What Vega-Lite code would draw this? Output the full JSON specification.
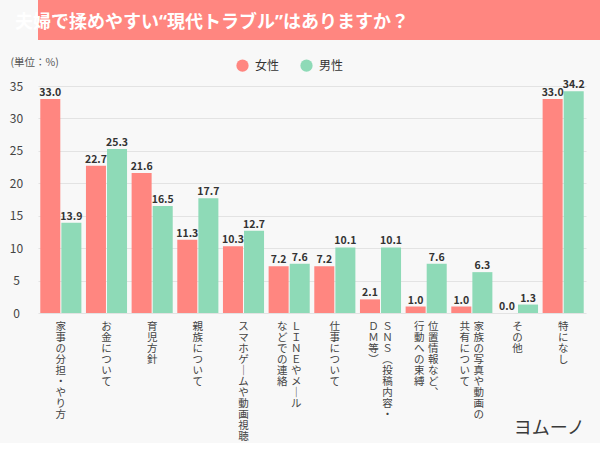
{
  "$schema": "https://vega.github.io/schema/vega-lite/v6.json",
  "background": "#F8F8F8",
  "padding": 0,
  "spacing": 17,
  "config": {"font": "Noto Sans CJK JP", "view": {"stroke": null}},
  "datasets": {
    "bars": [
      {"cat": "家事の分担・やり方", "gender": "女性", "value": 33.0},
      {"cat": "家事の分担・やり方", "gender": "男性", "value": 13.9},
      {"cat": "お金について", "gender": "女性", "value": 22.7},
      {"cat": "お金について", "gender": "男性", "value": 25.3},
      {"cat": "育児方針", "gender": "女性", "value": 21.6},
      {"cat": "育児方針", "gender": "男性", "value": 16.5},
      {"cat": "親族について", "gender": "女性", "value": 11.3},
      {"cat": "親族について", "gender": "男性", "value": 17.7},
      {"cat": "スマホゲームや動画視聴", "gender": "女性", "value": 10.3},
      {"cat": "スマホゲームや動画視聴", "gender": "男性", "value": 12.7},
      {"cat": "LINEやメールなどでの連絡", "gender": "女性", "value": 7.2},
      {"cat": "LINEやメールなどでの連絡", "gender": "男性", "value": 7.6},
      {"cat": "仕事について", "gender": "女性", "value": 7.2},
      {"cat": "仕事について", "gender": "男性", "value": 10.1},
      {"cat": "SNS（投稿内容・DM等）", "gender": "女性", "value": 2.1},
      {"cat": "SNS（投稿内容・DM等）", "gender": "男性", "value": 10.1},
      {"cat": "位置情報など、行動への束縛", "gender": "女性", "value": 1.0},
      {"cat": "位置情報など、行動への束縛", "gender": "男性", "value": 7.6},
      {"cat": "家族の写真や動画の共有について", "gender": "女性", "value": 1.0},
      {"cat": "家族の写真や動画の共有について", "gender": "男性", "value": 6.3},
      {"cat": "その他", "gender": "女性", "value": 0.0},
      {"cat": "その他", "gender": "男性", "value": 1.3},
      {"cat": "特になし", "gender": "女性", "value": 33.0},
      {"cat": "特になし", "gender": "男性", "value": 34.2}
    ],
    "labC": [
      {"cat": "家事の分担・やり方", "t": "家事の分担・やり方"},
      {"cat": "お金について", "t": "お金について"},
      {"cat": "育児方針", "t": "育児方針"},
      {"cat": "親族について", "t": "親族について"},
      {"cat": "スマホゲームや動画視聴", "t": "スマホゲ｜ムや動画視聴"},
      {"cat": "仕事について", "t": "仕事について"},
      {"cat": "その他", "t": "その他"},
      {"cat": "特になし", "t": "特になし"}
    ],
    "labR": [
      {"cat": "LINEやメールなどでの連絡", "t": "ＬＩＮＥやメ｜ル"},
      {"cat": "SNS（投稿内容・DM等）", "t": "ＳＮＳ︵投稿内容・"},
      {"cat": "位置情報など、行動への束縛", "t": "位置情報など︑"},
      {"cat": "家族の写真や動画の共有について", "t": "家族の写真や動画の"}
    ],
    "labL": [
      {"cat": "LINEやメールなどでの連絡", "t": "などでの連絡"},
      {"cat": "SNS（投稿内容・DM等）", "t": "ＤＭ等︶"},
      {"cat": "位置情報など、行動への束縛", "t": "行動への束縛"},
      {"cat": "家族の写真や動画の共有について", "t": "共有について"}
    ],
    "logo": [{"cat": "特になし", "t": "ヨムーノ"}]
  },
  "vconcat": [
    {
      "width": 600,
      "height": 40,
      "view": {"fill": "#FF8680", "stroke": null},
      "title": {
        "text": "夫婦で揉めやすい“現代トラブル”はありますか？",
        "anchor": "start",
        "frame": "group",
        "offset": -32,
        "dx": -23,
        "color": "#FFFFFF",
        "fontSize": 18,
        "fontWeight": "bold",
        "font": "Noto Sans, Noto Sans CJK JP"
      },
      "data": {"values": [{"t": ""}]},
      "mark": {"type": "text"},
      "encoding": {"text": {"field": "t"}}
    },
    {
      "width": 548,
      "height": 227,
      "layer": [
        {
          "data": {"name": "bars"},
          "mark": {"type": "bar"},
          "encoding": {
            "x": {
              "field": "cat", "type": "nominal", "sort": null,
              "scale": {
                "domain": ["家事の分担・やり方", "お金について", "育児方針", "親族について", "スマホゲームや動画視聴", "LINEやメールなどでの連絡", "仕事について", "SNS（投稿内容・DM等）", "位置情報など、行動への束縛", "家族の写真や動画の共有について", "その他", "特になし"],
                "paddingInner": 0.1, "paddingOuter": 0.05
              },
              "axis": null
            },
            "xOffset": {"field": "gender", "type": "nominal", "scale": {"domain": ["女性", "男性"], "paddingInner": 0.05}},
            "y": {
              "field": "value", "type": "quantitative",
              "scale": {"domain": [0, 35], "nice": false},
              "axis": {
                "title": "(単位：%)", "titleAngle": 0, "titleAlign": "left", "titleBaseline": "middle",
                "titleX": -28, "titleY": -24, "titleFontSize": 10.5, "titleFontWeight": "normal", "titleColor": "#555555",
                "domain": false, "ticks": false, "tickSize": 0, "labelPadding": 22, "labelAlign": "center",
                "labelFontSize": 12, "labelColor": "#444444", "gridColor": "#E3E3E3",
                "values": [0, 5, 10, 15, 20, 25, 30, 35], "tickCount": 12, "labelOverlap": false,
                "minExtent": 38, "maxExtent": 38
              }
            },
            "color": {
              "field": "gender", "type": "nominal",
              "scale": {"domain": ["女性", "男性"], "range": ["#FF8680", "#8EDAB7"]},
              "legend": {
                "orient": "none", "legendX": 198, "legendY": 59, "direction": "horizontal", "title": null,
                "symbolType": "circle", "symbolSize": 150, "symbolStrokeWidth": 0,
                "labelFontSize": 12, "labelColor": "#333333", "labelOffset": 6, "columnPadding": 20
              }
            }
          }
        },
        {
          "data": {"name": "bars"},
          "mark": {"type": "text", "baseline": "alphabetic", "dy": -3, "fontSize": 10.5, "fontWeight": "bold", "color": "#333333"},
          "encoding": {
            "x": {"field": "cat", "type": "nominal", "sort": null, "axis": null},
            "xOffset": {"field": "gender", "type": "nominal"},
            "y": {
              "field": "value", "type": "quantitative",
              "axis": {
                "title": "(単位：%)", "titleAngle": 0, "titleAlign": "left", "titleBaseline": "middle",
                "titleX": -28, "titleY": -24, "titleFontSize": 10.5, "titleFontWeight": "normal", "titleColor": "#555555",
                "domain": false, "ticks": false, "tickSize": 0, "labelPadding": 22, "labelAlign": "center",
                "labelFontSize": 12, "labelColor": "#444444", "gridColor": "#E3E3E3",
                "values": [0, 5, 10, 15, 20, 25, 30, 35], "tickCount": 12, "labelOverlap": false,
                "minExtent": 38, "maxExtent": 38
              }
            },
            "text": {"field": "value", "type": "quantitative", "format": ".1f"}
          }
        },
        {
          "data": {"name": "labC"},
          "transform": [{"calculate": "split(datum.t, '')", "as": "chars"}],
          "mark": {"type": "text", "baseline": "top", "dy": 9, "fontSize": 10.5, "lineHeight": 11, "color": "#444444"},
          "encoding": {
            "x": {"field": "cat", "type": "nominal", "sort": null, "axis": null},
            "y": {
              "datum": 0, "type": "quantitative",
              "axis": {
                "title": "(単位：%)", "titleAngle": 0, "titleAlign": "left", "titleBaseline": "middle",
                "titleX": -28, "titleY": -24, "titleFontSize": 10.5, "titleFontWeight": "normal", "titleColor": "#555555",
                "domain": false, "ticks": false, "tickSize": 0, "labelPadding": 22, "labelAlign": "center",
                "labelFontSize": 12, "labelColor": "#444444", "gridColor": "#E3E3E3",
                "values": [0, 5, 10, 15, 20, 25, 30, 35], "tickCount": 12, "labelOverlap": false,
                "minExtent": 38, "maxExtent": 38
              }
            },
            "text": {"field": "chars"}
          }
        },
        {
          "data": {"name": "labR"},
          "transform": [{"calculate": "split(datum.t, '')", "as": "chars"}],
          "mark": {"type": "text", "baseline": "top", "dy": 9, "dx": 7, "fontSize": 10.5, "lineHeight": 11, "color": "#444444"},
          "encoding": {
            "x": {"field": "cat", "type": "nominal", "sort": null, "axis": null},
            "y": {
              "datum": 0, "type": "quantitative",
              "axis": {
                "title": "(単位：%)", "titleAngle": 0, "titleAlign": "left", "titleBaseline": "middle",
                "titleX": -28, "titleY": -24, "titleFontSize": 10.5, "titleFontWeight": "normal", "titleColor": "#555555",
                "domain": false, "ticks": false, "tickSize": 0, "labelPadding": 22, "labelAlign": "center",
                "labelFontSize": 12, "labelColor": "#444444", "gridColor": "#E3E3E3",
                "values": [0, 5, 10, 15, 20, 25, 30, 35], "tickCount": 12, "labelOverlap": false,
                "minExtent": 38, "maxExtent": 38
              }
            },
            "text": {"field": "chars"}
          }
        },
        {
          "data": {"name": "labL"},
          "transform": [{"calculate": "split(datum.t, '')", "as": "chars"}],
          "mark": {"type": "text", "baseline": "top", "dy": 9, "dx": -7, "fontSize": 10.5, "lineHeight": 11, "color": "#444444"},
          "encoding": {
            "x": {"field": "cat", "type": "nominal", "sort": null, "axis": null},
            "y": {
              "datum": 0, "type": "quantitative",
              "axis": {
                "title": "(単位：%)", "titleAngle": 0, "titleAlign": "left", "titleBaseline": "middle",
                "titleX": -28, "titleY": -24, "titleFontSize": 10.5, "titleFontWeight": "normal", "titleColor": "#555555",
                "domain": false, "ticks": false, "tickSize": 0, "labelPadding": 22, "labelAlign": "center",
                "labelFontSize": 12, "labelColor": "#444444", "gridColor": "#E3E3E3",
                "values": [0, 5, 10, 15, 20, 25, 30, 35], "tickCount": 12, "labelOverlap": false,
                "minExtent": 38, "maxExtent": 38
              }
            },
            "text": {"field": "chars"}
          }
        },
        {
          "data": {"name": "logo"},
          "mark": {"type": "text", "baseline": "middle", "dy": 116, "dx": -14, "fontSize": 18, "color": "#3A3A3A"},
          "encoding": {
            "x": {"field": "cat", "type": "nominal", "sort": null, "axis": null},
            "y": {
              "datum": 0, "type": "quantitative",
              "axis": {
                "title": "(単位：%)", "titleAngle": 0, "titleAlign": "left", "titleBaseline": "middle",
                "titleX": -28, "titleY": -24, "titleFontSize": 10.5, "titleFontWeight": "normal", "titleColor": "#555555",
                "domain": false, "ticks": false, "tickSize": 0, "labelPadding": 22, "labelAlign": "center",
                "labelFontSize": 12, "labelColor": "#444444", "gridColor": "#E3E3E3",
                "values": [0, 5, 10, 15, 20, 25, 30, 35], "tickCount": 12, "labelOverlap": false,
                "minExtent": 38, "maxExtent": 38
              }
            },
            "text": {"field": "t"}
          }
        }
      ]
    }
  ]
}
